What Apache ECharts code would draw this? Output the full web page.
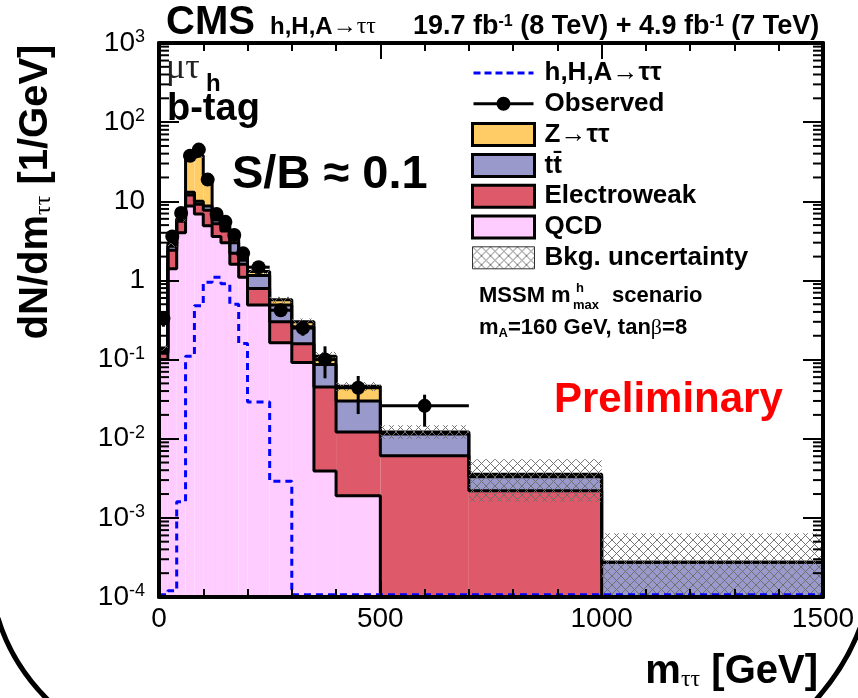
<!DOCTYPE html>
<html><head><meta charset="utf-8">
<script src="https://cdn.jsdelivr.net/npm/echarts@6.0.0/dist/echarts.min.js"></script>
<style>html,body{margin:0;padding:0;background:#fff}#c{width:858px;height:698px}</style>
</head><body><div id="c"></div>
<script>
// ---------------- data ----------------
const binEdges = [0,20,40,60,80,100,120,140,160,180,200,250,300,350,400,500,700,1000,1500];
const qcd         = [0.10,1.4,4.0,8.7,6.9,4.9,3.6,3.0,1.6,1.1,0.49,0.163,0.092,0.0039,0.0019,0,0,0];
const electroweak = [0.02,1.0,1.6,3.3,2.3,2.8,1.6,1.2,0.6,0.5,0.30,0.137,0.066,0.041,0.0103,0.0061,0.0022,0];
const ttbar       = [0.01,0.3,0.2,1.0,0.8,1.0,0.6,0.3,0.8,0.2,0.36,0.19,0.102,0.042,0.0178,0.0054,0.0011,0.000275];
const ztautau     = [0.01,0.2,0.2,23,28,10.1,1.2,0.8,0.7,0.6,0.15,0.08,0.04,0.023,0.016,0.0007,0.00025,0];
const signal      = [0,0.00012,0.0016,0.11,0.48,0.95,1.1,0.91,0.50,0.16,0.029,0.0029,0,0,0,0,0,0];
const observed     = [0.33,3.6,7.1,37.6,45,18.8,6.9,5.5,3.76,2.2,1.47,0.42,0.25,0.10,0.044,0.026,null,null];
const observedLow  = [0.26,3.1,6.3,35.5,42.8,17.4,6.1,4.8,3.2,1.8,1.3,0.35,0.20,0.058,0.0205,0.0142,null,null];
const observedHigh = [0.41,4.2,8.0,39.7,47.3,20.2,7.7,6.2,4.3,2.6,1.65,0.50,0.31,0.147,0.062,0.036,null,null];
const uncLow  = [0.13,2.65,5.5,33,35,17.3,6.4,4.9,3.4,2.2,1.2,0.52,0.27,0.095,0.040,0.0100,0.0016,0];
const uncHigh = [0.15,3.15,6.5,39,41,20.3,7.6,5.7,4.0,2.6,1.4,0.62,0.33,0.125,0.052,0.0148,0.0055,0.00064];
const xTickValues = [0,500,1000,1500];
const yDecades = [-4,-3,-2,-1,0,1,2,3];
const legendNames = ['h,H,A→ττ','Observed','Z→ττ','tt̄','Electroweak','QCD','Bkg. uncertainty'];

// ---------------- styling ----------------
const FONT = '"Liberation Sans", Arial, Helvetica, sans-serif';
const SERIF = '"Liberation Serif", "DejaVu Serif", serif';
const Y_MIN = 1e-4, Y_MAX = 1e3;
const SIG_FLOOR = 1.07e-4; // empty signal bins are drawn just above the bottom frame, as in ROOT
const colors = { qcd:'#FFCCFF', ewk:'#DE5A6A', tt:'#9999CC', ztt:'#FFCC66', sig:'#0000FF' };

function hatchCanvas(){
  const c = document.createElement('canvas'); c.width = 9; c.height = 9;
  const g = c.getContext('2d');
  g.strokeStyle = 'rgba(110,110,110,0.95)'; g.lineWidth = 1;
  g.beginPath(); g.moveTo(0,0); g.lineTo(9,9); g.moveTo(9,0); g.lineTo(0,9); g.stroke();
  return c;
}
const hatch = { image: hatchCanvas(), repeat: 'repeat' };

const nBins = binEdges.length - 1;
const components = [qcd, electroweak, ttbar, ztautau];
const cumul = [];
let running = new Array(nBins).fill(0);
components.forEach(c => { running = running.map((v,i) => v + c[i]); cumul.push(running); });

function stepPoints(vals, floor){
  const f = floor || Y_MIN;
  const pts = [[binEdges[0], f]];
  vals.forEach((v,i) => pts.push([binEdges[i], Math.max(v, f)]));
  pts.push([binEdges[nBins], Math.max(vals[nBins-1], f)]);
  pts.push([binEdges[nBins], f]);
  return pts;
}

function fillSeries(name, color, lowArr, highArr){
  return {
    type:'custom', name, z:2, clip:true, silent:true,
    itemStyle:{ color },
    data: highArr.map((v,i) => [(binEdges[i]+binEdges[i+1])/2, Math.max(v, Y_MIN), i]),
    renderItem(params, api){
      const i = api.value(2);
      const lo = Math.max(lowArr ? lowArr[i] : 0, Y_MIN), hi = highArr[i];
      if (!(hi > lo)) return null;
      const p0 = api.coord([binEdges[i], lo]), p1 = api.coord([binEdges[i+1], hi]);
      return { type:'rect', shape:{ x:p0[0], y:p1[1], width:p1[0]-p0[0], height:p0[1]-p1[1] }, style:{ fill: color } };
    }
  };
}
function outlineSeries(vals, id){
  return { type:'line', id, step:'end', symbol:'none', silent:true, z:3, clip:true,
    lineStyle:{ color:'#000', width:3 }, data: stepPoints(vals) };
}

const series = [
  fillSeries('QCD', colors.qcd, null, cumul[0]),
  fillSeries('Electroweak', colors.ewk, cumul[0], cumul[1]),
  fillSeries('tt̄', colors.tt, cumul[1], cumul[2]),
  fillSeries('Z→ττ', colors.ztt, cumul[2], cumul[3]),
  outlineSeries(cumul[3], 'o3'), outlineSeries(cumul[2], 'o2'),
  outlineSeries(cumul[1], 'o1'), outlineSeries(cumul[0], 'o0'),
  {
    type:'custom', name:'Bkg. uncertainty', z:4, clip:true, silent:true,
    itemStyle:{ color: hatch },
    data: uncHigh.map((v,i) => [(binEdges[i]+binEdges[i+1])/2, Math.max(v, Y_MIN), i]),
    renderItem(params, api){
      const i = api.value(2);
      const lo = Math.max(uncLow[i], Y_MIN), hi = uncHigh[i];
      if (!(hi > lo)) return null;
      const p0 = api.coord([binEdges[i], lo]), p1 = api.coord([binEdges[i+1], hi]);
      return { type:'rect', shape:{ x:p0[0], y:p1[1], width:p1[0]-p0[0], height:p0[1]-p1[1] }, style:{ fill: hatch } };
    }
  },
  {
    type:'line', name:'h,H,A→ττ', step:'end', symbol:'none', z:5, clip:true, silent:true,
    lineStyle:{ color: colors.sig, width:3, type:[7,5] }, itemStyle:{ color: colors.sig },
    data: stepPoints(signal, SIG_FLOOR)
  },
  {
    type:'custom', name:'Observed', z:6, clip:true, silent:true,
    itemStyle:{ color:'#000' },
    data: observed.map((v,i) => v == null ? null : [(binEdges[i]+binEdges[i+1])/2, v, i]).filter(d => d),
    renderItem(params, api){
      const i = api.value(2);
      const xc = (binEdges[i]+binEdges[i+1])/2, v = observed[i];
      const c = api.coord([xc, v]);
      const lo = api.coord([xc, observedLow[i]]), hi = api.coord([xc, observedHigh[i]]);
      const l = api.coord([binEdges[i], v]), r = api.coord([binEdges[i+1], v]);
      return { type:'group', children:[
        { type:'line', shape:{ x1:l[0], y1:c[1], x2:r[0], y2:c[1] }, style:{ stroke:'#000', lineWidth:3 } },
        { type:'line', shape:{ x1:c[0], y1:lo[1], x2:c[0], y2:hi[1] }, style:{ stroke:'#000', lineWidth:3 } },
        { type:'circle', shape:{ cx:c[0], cy:c[1], r:7 }, style:{ fill:'#000' } }
      ]};
    }
  },
  {
    // minor ticks of the logarithmic axis, left and right frame
    type:'custom', z:20, silent:true, clip:false,
    data: yDecades.slice(0,-1).flatMap(e => [2,3,4,5,6,7,8,9].map(k => [0, k*Math.pow(10,e)])),
    renderItem(params, api){
      const a = api.coord([0, api.value(1)]), b = api.coord([1500, api.value(1)]);
      return { type:'group', children:[
        { type:'line', shape:{ x1:a[0], y1:a[1], x2:a[0]+10, y2:a[1] }, style:{ stroke:'#000', lineWidth:2 } },
        { type:'line', shape:{ x1:b[0], y1:b[1], x2:b[0]-10, y2:b[1] }, style:{ stroke:'#000', lineWidth:2 } }
      ]};
    }
  }
];

const CORNERS = 'M0,0 L0.01,0 L0,0.01 Z M60,22 L59.99,22 L60,21.99 Z ';
const obsIcon = 'path://' + CORNERS + 'M0,9.5 L60,9.5 L60,12.5 L0,12.5 Z M37,11 A7,7 0 1 1 23,11 A7,7 0 1 1 37,11 Z';
const sigIcon = 'path://' + CORNERS + [0,11,22,33,44,55].map(x => {
  const w = Math.min(7, 60 - x);
  return 'M' + x + ',9.5 L' + (x+w) + ',9.5 L' + (x+w) + ',12.5 L' + x + ',12.5 Z';
}).join(' ');

const xAxisBase = {
  type:'value', min:0, max:1500, interval:500, z:10,
  axisLine:{ show:true, onZero:false, lineStyle:{ color:'#000', width:4 } },
  axisTick:{ show:true, inside:true, length:16, lineStyle:{ color:'#000', width:2 } },
  minorTick:{ show:true, splitNumber:5, length:8, lineStyle:{ color:'#000', width:2 } },
  splitLine:{ show:false }
};
const yAxisBase = {
  type:'log', logBase:10, min:Y_MIN, max:Y_MAX, z:10,
  axisLine:{ show:true, onZero:false, lineStyle:{ color:'#000', width:4 } },
  axisTick:{ show:true, inside:true, length:20, lineStyle:{ color:'#000', width:2 } },
  splitLine:{ show:false }
};

const option = {
  animation:false,
  backgroundColor:'#fff',
  grid:{ left:159, right:35, top:43, bottom:101, containLabel:false },
  xAxis:[
    Object.assign({}, xAxisBase, { position:'bottom',
      axisLabel:{ show:true, fontSize:28, fontFamily:FONT, color:'#000', margin:8,
        formatter: v => xTickValues.includes(v) ? String(v) : '' } }),
    Object.assign({}, xAxisBase, { position:'top', axisLabel:{ show:false } })
  ],
  yAxis:[
    Object.assign({}, yAxisBase, { position:'left',
      axisLabel:{ show:true, margin:14, color:'#000',
        formatter: v => {
          const e = Math.round(Math.log10(v));
          if (e === 0) return '{n|1}';
          if (e === 1) return '{n|10}';
          return '{n|10}{s|' + e + '}';
        },
        rich:{ n:{ fontSize:28, fontFamily:FONT, color:'#000', lineHeight:30 },
               s:{ fontSize:18, fontFamily:FONT, color:'#000', lineHeight:18, verticalAlign:'top', padding:[0,0,6,0] } } } }),
    Object.assign({}, yAxisBase, { position:'right', axisLabel:{ show:false } })
  ],
  legend:{
    show:true, orient:'vertical', left:471, top:60, padding:0, itemWidth:62, itemHeight:22, itemGap:4.8,
    selectedMode:false,
    textStyle:{ fontSize:26, fontWeight:'bold', fontFamily:FONT, color:'#000', padding:[0,0,0,5] },
    data:[
      { name:'h,H,A→ττ', icon: sigIcon, itemStyle:{ color:colors.sig, borderWidth:0 } },
      { name:'Observed', icon: obsIcon, itemStyle:{ color:'#000', borderWidth:0 } },
      { name:'Z→ττ', icon:'rect', itemStyle:{ color:colors.ztt, borderColor:'#000', borderWidth:3 } },
      { name:'tt̄', icon:'rect', itemStyle:{ color:colors.tt, borderColor:'#000', borderWidth:3 } },
      { name:'Electroweak', icon:'rect', itemStyle:{ color:colors.ewk, borderColor:'#000', borderWidth:3 } },
      { name:'QCD', icon:'rect', itemStyle:{ color:colors.qcd, borderColor:'#000', borderWidth:3 } },
      { name:'Bkg. uncertainty', icon:'rect', itemStyle:{ color:hatch, borderColor:'#333', borderWidth:1 } }
    ]
  },
  graphic:[
    { type:'text', x:166, y:23, style:{ text:'CMS', fontSize:40, fontWeight:'bold', fontFamily:FONT, fill:'#000', verticalAlign:'middle', textVerticalAlign:'middle' } },
    { type:'text', x:270, y:27, style:{ text:'{a|h,H,A}{b|→ττ}', verticalAlign:'middle', textVerticalAlign:'middle',
        rich:{ a:{ fontSize:24, fontWeight:'bold', fontFamily:FONT, fill:'#000' }, b:{ fontSize:24, fontFamily:SERIF, fill:'#000' } } } },
    { type:'text', x:413, y:27, style:{ text:'19.7 fb{s|-1} (8 TeV) + 4.9 fb{s|-1} (7 TeV)', fontSize:27, fontWeight:'bold', fontFamily:FONT, fill:'#000', verticalAlign:'middle', textVerticalAlign:'middle',
        rich:{ s:{ fontSize:16, fontWeight:'bold', fontFamily:FONT, fill:'#000', verticalAlign:'top', padding:[0,0,8,0] } } } },
    { type:'text', x:166, y:69, style:{ text:'μτ', fontSize:36, fontFamily:SERIF, fill:'#222', verticalAlign:'middle', textVerticalAlign:'middle' } },
    { type:'text', x:206, y:84, style:{ text:'h', fontSize:24, fontWeight:'bold', fontFamily:FONT, fill:'#000', verticalAlign:'middle', textVerticalAlign:'middle' } },
    { type:'text', x:167, y:110, style:{ text:'b-tag', fontSize:38, fontWeight:'bold', fontFamily:FONT, fill:'#000', verticalAlign:'middle', textVerticalAlign:'middle' } },
    { type:'text', x:232, y:175, style:{ text:'S/B ≈ 0.1', fontSize:47, fontWeight:'bold', fontFamily:FONT, fill:'#000', verticalAlign:'middle', textVerticalAlign:'middle' } },
    { type:'text', x:479, y:296, style:{ text:'MSSM m', fontSize:22, fontWeight:'bold', fontFamily:FONT, fill:'#000', verticalAlign:'middle', textVerticalAlign:'middle' } },
    { type:'text', x:576, y:288, style:{ text:'h', fontSize:13, fontWeight:'bold', fontFamily:FONT, fill:'#000', verticalAlign:'middle', textVerticalAlign:'middle' } },
    { type:'text', x:573, y:305, style:{ text:'max', fontSize:13, fontWeight:'bold', fontFamily:FONT, fill:'#000', verticalAlign:'middle', textVerticalAlign:'middle' } },
    { type:'text', x:612, y:296, style:{ text:'scenario', fontSize:22, fontWeight:'bold', fontFamily:FONT, fill:'#000', verticalAlign:'middle', textVerticalAlign:'middle' } },
    { type:'text', x:479, y:328, style:{ text:'m{s|A}=160 GeV, tan{g|β}=8', fontSize:22, fontWeight:'bold', fontFamily:FONT, fill:'#000', verticalAlign:'middle', textVerticalAlign:'middle',
        rich:{ s:{ fontSize:13, fontWeight:'bold', fontFamily:FONT, fill:'#000', verticalAlign:'bottom', padding:[10,0,0,0] }, g:{ fontSize:22, fontFamily:SERIF, fill:'#000' } } } },
    { type:'text', x:554, y:400, style:{ text:'Preliminary', fontSize:42, fontWeight:'bold', fontFamily:FONT, fill:'#FF0000', verticalAlign:'middle', textVerticalAlign:'middle' } },
    { type:'text', x:36, y:192, rotation:Math.PI/2, style:{ text:'dN/dm{s|ττ} [1/GeV]', fontSize:40, fontWeight:'bold', fontFamily:FONT, fill:'#000', align:'center', textAlign:'center', verticalAlign:'middle', textVerticalAlign:'middle',
        rich:{ s:{ fontSize:24, fontFamily:SERIF, fill:'#000', verticalAlign:'bottom', padding:[14,0,0,0] } } } },
    { type:'text', x:818, y:672, style:{ text:'m{s|ττ} [GeV]', fontSize:40, fontWeight:'bold', fontFamily:FONT, fill:'#000', align:'right', textAlign:'right', verticalAlign:'middle', textVerticalAlign:'middle',
        rich:{ s:{ fontSize:24, fontFamily:SERIF, fill:'#000', verticalAlign:'bottom', padding:[14,0,0,0] } } } },
    { type:'bezierCurve', shape:{ x1:-2, y1:618, cpx1:12, cpy1:665, x2:50, y2:702 }, style:{ stroke:'#000', lineWidth:5, fill:null } },
    { type:'bezierCurve', shape:{ x1:860, y1:628, cpx1:845, cpy1:668, x2:814, y2:702 }, style:{ stroke:'#000', lineWidth:5, fill:null } }
  ],
  series
};

const chart = echarts.init(document.getElementById('c'), null, { renderer:'canvas' });
chart.setOption(option);
</script>
</body></html>
